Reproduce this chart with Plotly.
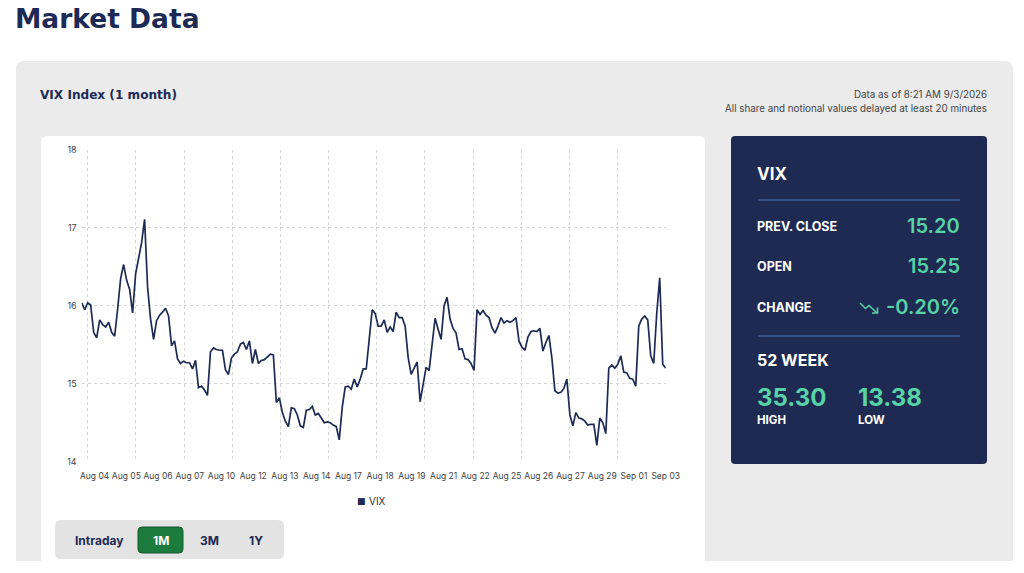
import numpy as np
import plotly.graph_objects as go

# page is drawn inside the browser's default 8px body margin
OX, OY = 8, 8
W, H = 1012, 553

# ---------------- data ----------------
vix_values = [
    16.04, 15.95, 16.04, 16.01, 15.66, 15.59, 15.82, 15.76, 15.73, 15.79, 15.66, 15.61, 15.96, 16.35, 16.53, 16.33,
    16.21, 15.91, 16.41, 16.62, 16.81, 17.11, 16.24, 15.83, 15.57, 15.81, 15.88, 15.92, 15.97, 15.87, 15.49, 15.55,
    15.32, 15.26, 15.29, 15.27, 15.27, 15.19, 15.30, 14.95, 14.97, 14.92, 14.85, 15.41, 15.46, 15.44, 15.43, 15.43,
    15.18,
    15.12, 15.33, 15.38, 15.41, 15.51, 15.53, 15.44, 15.55, 15.26, 15.44, 15.26, 15.30, 15.31, 15.35, 15.38, 15.37,
    14.76, 14.82, 14.63, 14.52, 14.45, 14.69, 14.68, 14.60, 14.46, 14.44, 14.66, 14.67, 14.71, 14.60, 14.62, 14.56,
    14.50, 14.51, 14.50, 14.47, 14.45, 14.28, 14.70, 14.96, 14.97, 14.93, 15.06, 14.96, 15.06, 15.19, 15.19, 15.57,
    15.95,
    15.90, 15.74, 15.74, 15.82, 15.66, 15.73, 15.67, 15.92, 15.85, 15.85, 15.74, 15.34, 15.12, 15.19, 15.28, 14.77,
    14.97, 15.21, 15.17, 15.53, 15.84, 15.70, 15.57, 16.00, 16.11, 15.83, 15.71, 15.65, 15.44, 15.45, 15.32, 15.31,
    15.26, 15.17, 15.95, 15.89, 15.94, 15.88, 15.85, 15.72, 15.65, 15.74, 15.85, 15.78, 15.81, 15.79, 15.81, 15.85,
    15.55,
    15.47, 15.43, 15.60, 15.67, 15.68, 15.67, 15.71, 15.42, 15.53, 15.62, 15.33, 14.91, 14.88, 14.89, 14.94, 15.06,
    14.60, 14.46, 14.63, 14.56, 14.55, 14.52, 14.47, 14.48, 14.48, 14.21, 14.56, 14.50, 14.36, 15.20, 15.24, 15.20,
    15.25, 15.36, 15.15, 15.14, 15.07, 15.06, 14.97, 15.74, 15.83, 15.87, 15.82, 15.36, 15.26, 15.90, 16.36, 15.25,
    15.20,
]
date_labels = ["Aug 04", "Aug 05", "Aug 06", "Aug 07", "Aug 10", "Aug 12", "Aug 13", "Aug 14", "Aug 17",
               "Aug 18", "Aug 19", "Aug 21", "Aug 22", "Aug 25", "Aug 26", "Aug 27", "Aug 29", "Sep 01", "Sep 03"]
y_ticks = [14, 15, 16, 17, 18]

stats_labels = ["PREV. CLOSE", "OPEN", "CHANGE"]
stats_values = ["15.20", "15.25", "-0.20%"]
week52_values = ["35.30", "13.38"]
week52_labels = ["HIGH", "LOW"]
range_buttons = ["Intraday", "1M", "3M", "1Y"]

# ---------------- helpers ----------------
NAVY = "#1c2a55"
GREEN_TXT = "#58d3a6"
FONT = "Inter"
HEAD = "DejaVu Sans"


def px(x):
    return (x - OX) / W


def py(y):
    return 1 - (y - OY) / H


def P(x, y):
    return f"{px(x):.5f},{py(y):.5f}"


def rrect(x0, y0, x1, y1, r, fill, line=None, lw=0):
    path = (f"M {P(x0 + r, y0)} L {P(x1 - r, y0)} Q {P(x1, y0)} {P(x1, y0 + r)} "
            f"L {P(x1, y1 - r)} Q {P(x1, y1)} {P(x1 - r, y1)} "
            f"L {P(x0 + r, y1)} Q {P(x0, y1)} {P(x0, y1 - r)} "
            f"L {P(x0, y0 + r)} Q {P(x0, y0)} {P(x0 + r, y0)} Z")
    return dict(type="path", path=path, xref="paper", yref="paper", fillcolor=fill,
                line=dict(color=line or fill, width=lw), layer="below")


def text(x, y, s, size, color, weight=400, xanchor="left", family=FONT):
    # compensate the 3px inner padding of plotly annotations
    dx = {"left": -3, "right": 3, "center": 0}[xanchor]
    return dict(x=px(x + dx), y=py(y), xref="paper", yref="paper", text=s, showarrow=False,
                xanchor=xanchor, yanchor="middle",
                font=dict(family=family, size=size, color=color, weight=weight))


# ---------------- figure ----------------
n = len(vix_values)
idx = list(range(n))

fig = go.Figure()
fig.add_trace(go.Scatter(x=idx, y=vix_values, mode="lines", name="VIX", showlegend=False,
                         line=dict(color=NAVY, width=1.7), hoverinfo="y"))

grid_col = "#d6d6d6"
tick_pos = list(np.linspace(4.3, n - 1, len(date_labels)))
grid_pos = [0] + list(np.linspace(2, n - 1, 13))

shapes = [
    rrect(16, 61, 1013, 600, 8, "#ebebeb"),
    rrect(41, 136, 705, 590, 6, "#ffffff"),
    rrect(731, 136, 987, 464, 4, "#1e2a52"),
    rrect(55, 520, 284, 559, 6, "#e3e3e3"),
    rrect(138, 527, 183, 553, 4, "#1b7b3d", "#11562a", 1),
    dict(type="line", xref="paper", yref="paper", x0=px(758), x1=px(960), y0=py(200), y1=py(200),
         line=dict(color="#3f5f96", width=1.5)),
    dict(type="line", xref="paper", yref="paper", x0=px(758), x1=px(960), y0=py(336), y1=py(336),
         line=dict(color="#3f5f96", width=1.5)),
    # "trending down" icon next to the change value
    dict(type="path", xref="paper", yref="paper",
         path=f"M {P(860, 303)} L {P(865.5, 308.5)} L {P(869, 305.5)} L {P(877, 313)}",
         line=dict(color=GREEN_TXT, width=1.6)),
    dict(type="path", xref="paper", yref="paper",
         path=f"M {P(872, 313)} L {P(877.5, 313)} L {P(877.5, 307.5)}",
         line=dict(color=GREEN_TXT, width=1.6)),
]

ann = [
    text(16, 18.5, "Market Data", 26.5, NAVY, 800, "left", HEAD),
    text(41, 95, "VIX Index (1 month)", 12.1, NAVY, 800, "left", HEAD),
    text(986, 94, "Data as of 8:21 AM 9/3/2026", 9.8, "#444444", 400, "right"),
    text(986, 108, "All share and notional values delayed at least 20 minutes", 9.8, "#444444", 400, "right"),
    text(758, 174, "VIX", 17, "#ffffff", 700),
    text(758, 360, "52 WEEK", 16, "#ffffff", 700),
    text(358, 501, f"<span style='color:{NAVY}'>■</span>", 9, NAVY, 400, "left", "DejaVu Sans"),
    text(370, 501, "VIX", 10, "#333333", 400, "left"),
]
for i, (lab, val) in enumerate(zip(stats_labels, stats_values)):
    yy = 226 + i * 40.5
    ann.append(text(758, yy, lab, 12.5, "#ffffff", 700))
    ann.append(text(959, yy, val, 20, GREEN_TXT, 600, "right"))
for i, (val, lab) in enumerate(zip(week52_values, week52_labels)):
    xx = 758 + i * 101
    ann.append(text(xx, 397, val, 24, GREEN_TXT, 700))
    ann.append(text(xx, 420, lab, 11.5, "#ffffff", 700))
for i, b in enumerate(range_buttons):
    xx = [99, 161, 209, 256][i]
    ann.append(text(xx, 540, b, 12, "#ffffff" if b == "1M" else NAVY, 700, "center"))

fig.update_layout(
    width=W, height=H, margin=dict(l=0, r=0, t=0, b=0),
    paper_bgcolor="#ffffff", plot_bgcolor="rgba(0,0,0,0)",
    font=dict(family=FONT, color="#444444"),
    shapes=shapes, annotations=ann,
    showlegend=False,
    xaxis=dict(domain=[px(81.7), px(665.7)], range=[0, n - 1], showgrid=False, zeroline=False,
               tickmode="array", tickvals=tick_pos, ticktext=date_labels, ticks="", tickangle=0,
               tickfont=dict(size=8.5, color="#444444"), showline=False, automargin=False,
               ticklabelstandoff=8,
               minor=dict(tickmode="array", tickvals=grid_pos, showgrid=True, gridcolor=grid_col,
                          griddash="3px,3px", gridwidth=1, ticks="")),
    yaxis=dict(domain=[py(461.7), py(150)], range=[14, 18], tickvals=y_ticks, showgrid=True,
               gridcolor=grid_col, griddash="3px,3px", gridwidth=1, zeroline=False, ticks="",
               tickfont=dict(size=9, color="#444444"), showline=False, automargin=False,
               ticklabelstandoff=4),
)

fig.write_html("out.html")
